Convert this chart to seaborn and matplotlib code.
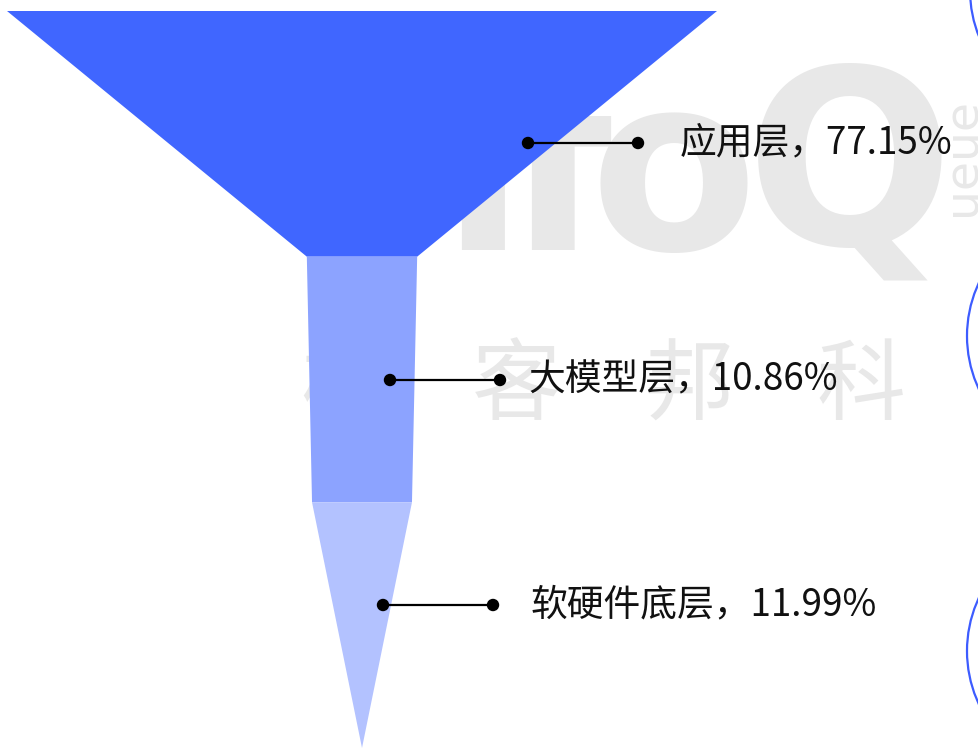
import matplotlib
matplotlib.use('Agg')
import matplotlib.pyplot as plt
import seaborn as sns
import pandas as pd
from matplotlib.patches import Circle

# data
layers = ['应用层', '大模型层', '软硬件底层']
shares = [77.15, 10.86, 11.99]
colors = ['#4066FF', '#8CA3FF', '#B3C2FF']

# layout, in pixels (axes run 0..979 x 0..748, y down)
W, H = 979, 748
CX = 362
TOP, BOTTOM = 11, 748
MAX_W = 710
label_y = [143, 380, 605]
dot_x = [528, 390, 383]
text_x = [680, 528, 531]
LINE_LEN = 110

sns.set_theme(style='white')
plt.rcParams['font.family'] = ['Noto Sans CJK SC', 'DejaVu Sans']

fig = plt.figure(figsize=(W / 100, H / 100), dpi=100)
ax = fig.add_axes([0, 0, 1, 1])

# watermark behind the funnel
wm = '#E8E8E8'
for ch, x, base in zip('InfoQ', [300, 350, 505, 590, 746], [250, 250, 250, 250, 244]):
    ax.text(x, base, ch, fontsize=176, fontweight='bold', color=wm,
            family='DejaVu Sans', ha='left', va='baseline', zorder=0)
ax.text(962, 157, 'ueue', fontsize=34, color=wm, family='DejaVu Sans',
        rotation=90, ha='center', va='center', zorder=0)
for i, ch in enumerate('极客邦科'):
    ax.text(300 + i * 172, 388, ch, fontsize=64, color=wm, ha='left',
            va='center', zorder=0)

# decorative arcs at the right edge
for cx, cy in [(1095, -10), (1092, 336), (1092, 651)]:
    ax.add_patch(Circle((cx, cy), 125, fill=False, ec='#3D5CFF', lw=1.6, zorder=1))

# funnel segments: widths follow the shares sorted descending
widths = sorted(shares, reverse=True) + [0]
scale = MAX_W / widths[0]
seg_h = (BOTTOM - TOP) / len(shares)
for i, c in enumerate(colors):
    y0, y1 = TOP + i * seg_h, TOP + (i + 1) * seg_h
    w0, w1 = widths[i] * scale / 2, widths[i + 1] * scale / 2
    ax.fill([CX - w0, CX + w0, CX + w1, CX - w1], [y0, y0, y1, y1],
            color=c, lw=0, zorder=2)

# label connectors
for x, y in zip(dot_x, label_y):
    ax.plot([x, x + LINE_LEN], [y, y], color='black', lw=1.6, zorder=3)
dots = pd.DataFrame({'x': dot_x + [x + LINE_LEN for x in dot_x],
                     'y': label_y * 2})
sns.scatterplot(data=dots, x='x', y='y', color='black', s=80,
                edgecolor='none', zorder=4, ax=ax, legend=False)

for name, v, x, y in zip(layers, shares, text_x, label_y):
    ax.text(x, y, f'{name}，{v:.2f}%', fontsize=26.5, color='#111111',
            ha='left', va='center', zorder=4)

ax.set_xlim(0, W)
ax.set_ylim(H, 0)
ax.axis('off')
fig.savefig('out.png', dpi=100, facecolor='white')
